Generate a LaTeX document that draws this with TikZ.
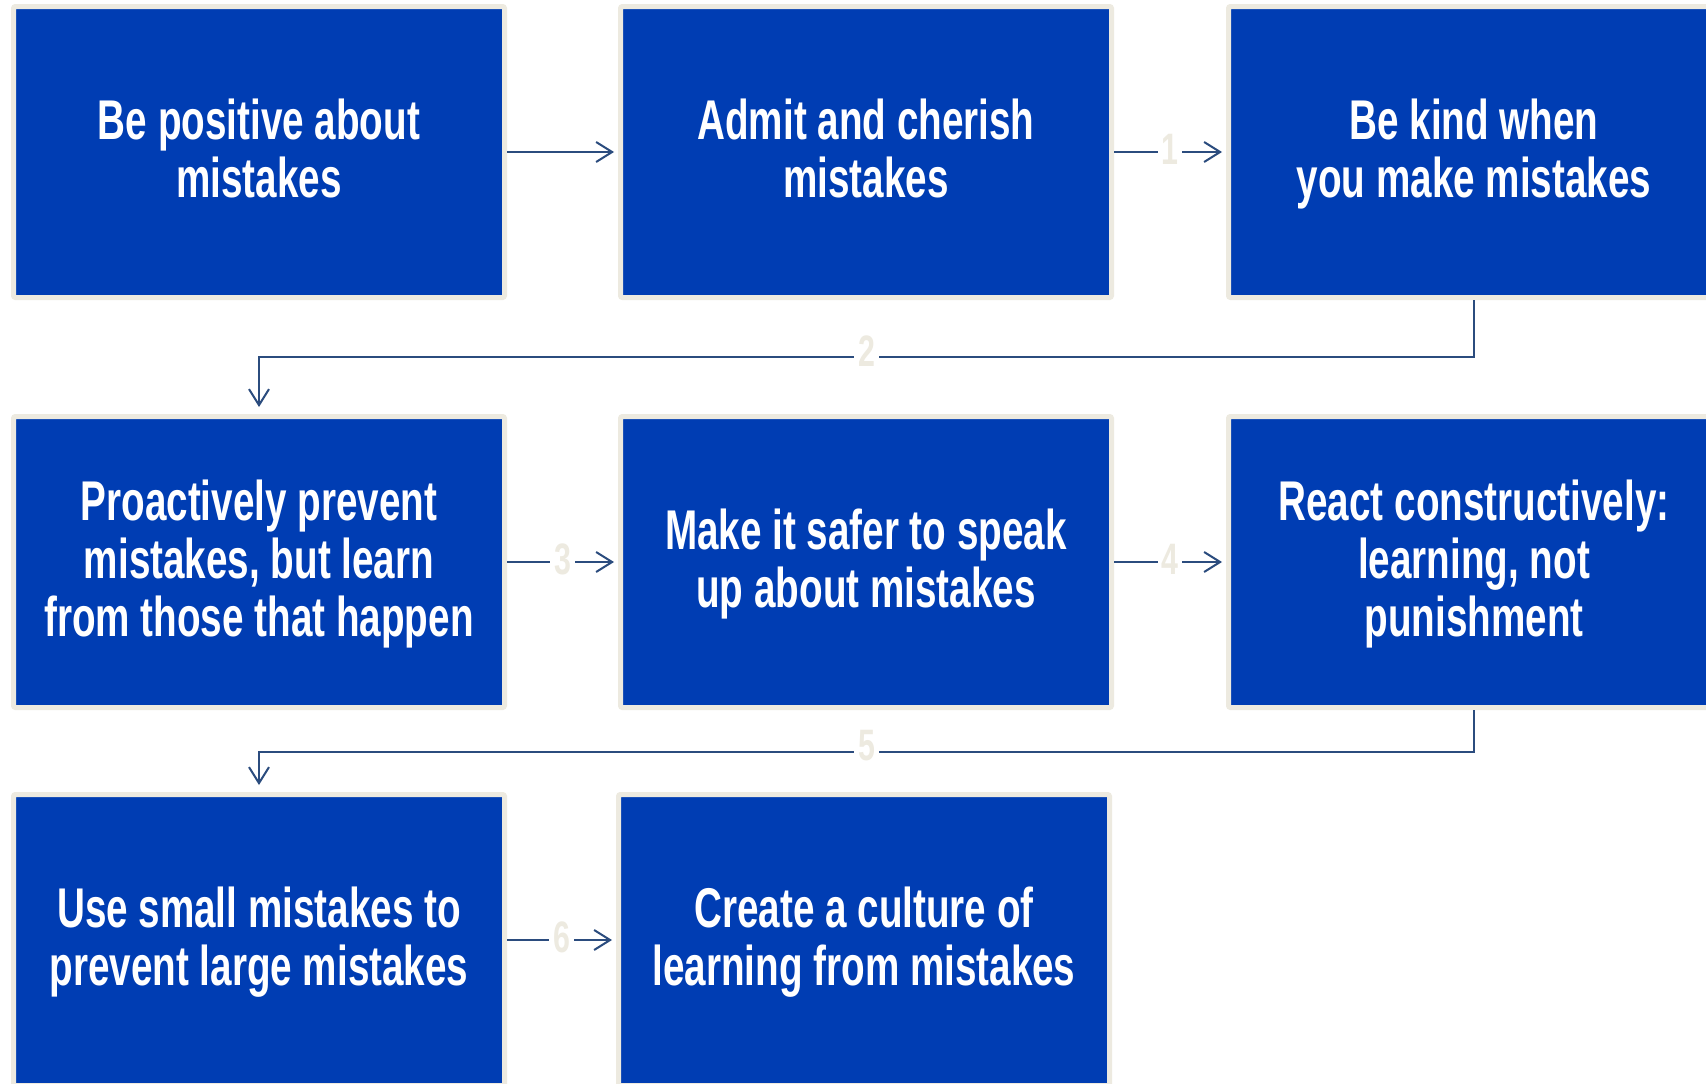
\documentclass[tikz,border=0pt]{standalone}
\usepackage{fontspec}
\newfontfamily\boxfont{Liberation Sans}[FakeStretch=0.69]
\usetikzlibrary{arrows.meta}
\definecolor{boxblue}{HTML}{003DB3}
\definecolor{beige}{HTML}{EDEAE0}
\definecolor{linecol}{HTML}{2B4C7E}
\tikzset{
  stepbox/.style={fill=boxblue, draw=beige, line width=5pt, rounded corners=2pt,
    minimum width=491pt, minimum height=291pt, inner sep=0pt, align=center,
    text depth=7pt,
    text=white, font=\boxfont\bfseries\fontsize{56}{58}\selectfont},
  conn/.style={draw=linecol, line width=2pt,
    -{Straight Barb[length=16pt,width=20pt,line width=2pt]}},
  numlab/.style={fill=white, text=beige, inner xsep=4pt, inner ysep=0pt,
    font=\boxfont\bfseries\fontsize{44}{44}\selectfont, yshift=3pt},
}
\begin{document}
\begin{tikzpicture}[x=1pt,y=-1pt]
\useasboundingbox (0,0) rectangle (1706,1084);
\fill[white] (0,0) rectangle (1706,1084);
\node[stepbox] (b1) at (259,152) {Be positive about\\mistakes};
\node[stepbox] (b2) at (866,152) {Admit and cherish\\mistakes};
\node[stepbox] (b3) at (1474,152) {Be kind when\\you make mistakes};
\node[stepbox] (b4) at (259,562) {Proactively prevent\\mistakes, but learn\\from those that happen};
\node[stepbox] (b5) at (866,562) {Make it safer to speak\\up about mistakes};
\node[stepbox] (b6) at (1474,562) {React constructively:\\learning, not\\punishment};
\node[stepbox] (b7) at (259,940) {Use small mistakes to\\prevent large mistakes};
\node[stepbox] (b8) at (864,940) {Create a culture of\\learning from mistakes};
\coordinate (r1) at (0,357);
\coordinate (r2) at (0,752);
\draw[conn, shorten >=4pt] (b1.east) -- (b2.west);
\draw[conn, shorten >=4pt] (b2.east) -- node[numlab]{1} (b3.west);
\draw[conn, shorten >=7pt] (b3.south) -- (b3.south |- r1) -- node[numlab, yshift=3pt]{2} (b4.north |- r1) -- (b4.north);
\draw[conn, shorten >=4pt] (b4.east) -- node[numlab]{3} (b5.west);
\draw[conn, shorten >=4pt] (b5.east) -- node[numlab]{4} (b6.west);
\draw[conn, shorten >=7pt] (b6.south) -- (b6.south |- r2) -- node[numlab, yshift=3pt]{5} (b7.north |- r2) -- (b7.north);
\draw[conn, shorten >=4pt] (b7.east) -- node[numlab]{6} (b8.west);
\end{tikzpicture}
\end{document}
